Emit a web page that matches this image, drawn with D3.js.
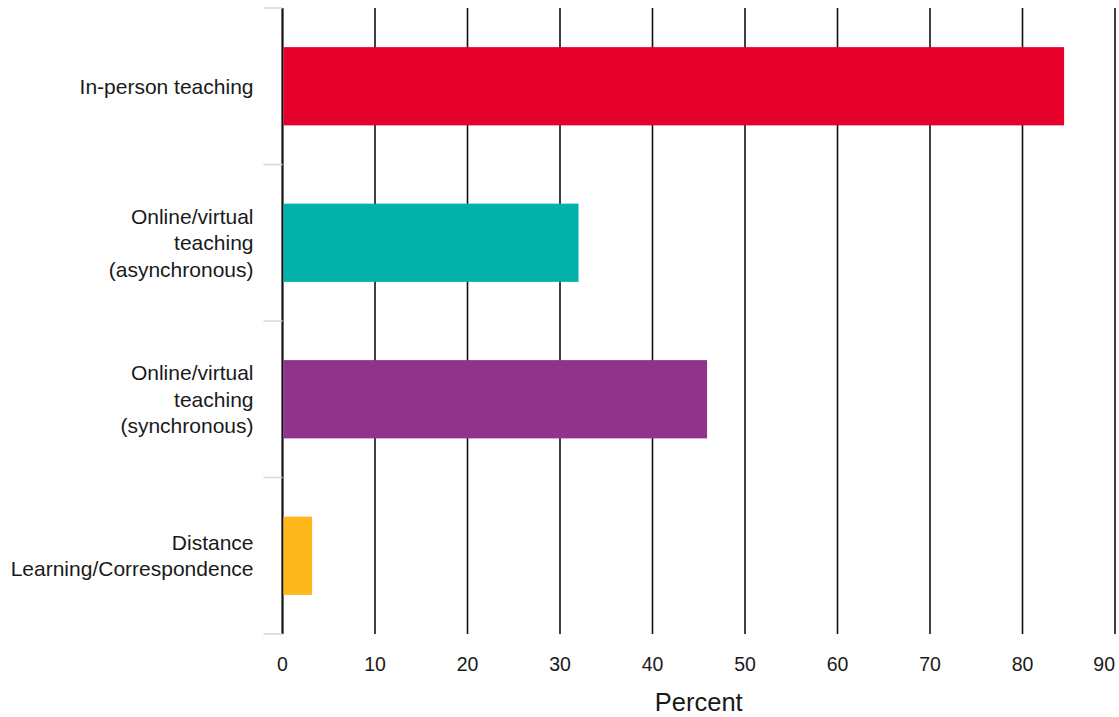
<!DOCTYPE html>
<html>
<head>
<meta charset="utf-8">
<script src="https://cdn.jsdelivr.net/npm/d3@7"></script>
<style>
  html, body { margin: 0; padding: 0; background: #fff; }
  svg { display: block; font-family: "Liberation Sans", Arial, Helvetica, sans-serif; }
</style>
</head>
<body>
<svg id="chart" width="1119" height="717"></svg>
<script>
const categories = [
  ["In-person teaching"],
  ["Online/virtual", "teaching", "(asynchronous)"],
  ["Online/virtual", "teaching", "(synchronous)"],
  ["Distance", "Learning/Correspondence"]
];
const values = [84.5, 32, 45.9, 3.2];
const colors = ["#e4002b", "#00b2aa", "#8f338b", "#feb81c"];
const xTicks = [0, 10, 20, 30, 40, 50, 60, 70, 80, 90];
const xTitle = "Percent";

(function () {
const svg = d3.select("#chart");
const W = 1119;
const mLeft = 282.5, mRight = 1115, mTop = 8, mBottom = 634;

const keys = categories.map((c, i) => "c" + i);
const x = d3.scaleLinear().domain([0, 90]).range([mLeft, mRight]);
const y = d3.scaleBand().domain(keys).range([mTop, mBottom]).paddingInner(0.5).paddingOuter(0.25);

// gridlines
svg.append("g").selectAll("line").data(xTicks).join("line")
  .attr("x1", d => x(d)).attr("x2", d => x(d))
  .attr("y1", mTop).attr("y2", mBottom)
  .attr("stroke", "#111").attr("stroke-width", d => d === 0 ? 2.2 : 1.6);

// category ticks at band boundaries
const step = y.step();
const bounds = keys.map(k => y(k) - step * y.paddingInner() / 2);
bounds.push(bounds[bounds.length - 1] + step);
svg.append("g").selectAll("line").data(bounds).join("line")
  .attr("x1", mLeft - 19).attr("x2", mLeft)
  .attr("y1", d => d).attr("y2", d => d)
  .attr("stroke", "#ccd6eb").attr("stroke-width", 1.5);

// bars
svg.append("g").selectAll("rect").data(values).join("rect")
  .attr("x", x(0) + 1)
  .attr("y", (d, i) => y(keys[i]))
  .attr("width", d => x(d) - x(0) - 1)
  .attr("height", y.bandwidth())
  .attr("fill", (d, i) => colors[i]);

// category labels
const lineH = 26.5;
const lab = svg.append("g").selectAll("text").data(categories).join("text")
  .attr("text-anchor", "end")
  .attr("font-size", 21)
  .attr("fill", "#1a1a1a")
  .attr("x", mLeft - 29)
  .attr("y", (d, i) => y(keys[i]) + y.bandwidth() / 2);
lab.each(function (lines) {
  const t = d3.select(this);
  const cy = +t.attr("y");
  lines.forEach((l, j) => {
    t.append("tspan")
      .attr("x", mLeft - 29)
      .attr("y", cy + (j - (lines.length - 1) / 2) * lineH)
      .attr("dy", "0.35em")
      .text(l);
  });
});

// x tick labels
const last = xTicks[xTicks.length - 1];
svg.append("g").selectAll("text").data(xTicks).join("text")
  .attr("x", d => d === last ? W - 4 : x(d))
  .attr("y", 664)
  .attr("dy", "0.35em")
  .attr("text-anchor", d => d === last ? "end" : "middle")
  .attr("font-size", 19.5)
  .attr("fill", "#1a1a1a")
  .text(d => d);

// axis title
svg.append("text")
  .attr("x", (mLeft + mRight) / 2)
  .attr("y", 711)
  .attr("text-anchor", "middle")
  .attr("font-size", 25.5)
  .attr("fill", "#1a1a1a")
  .text(xTitle);
})();
</script>
</body>
</html>
